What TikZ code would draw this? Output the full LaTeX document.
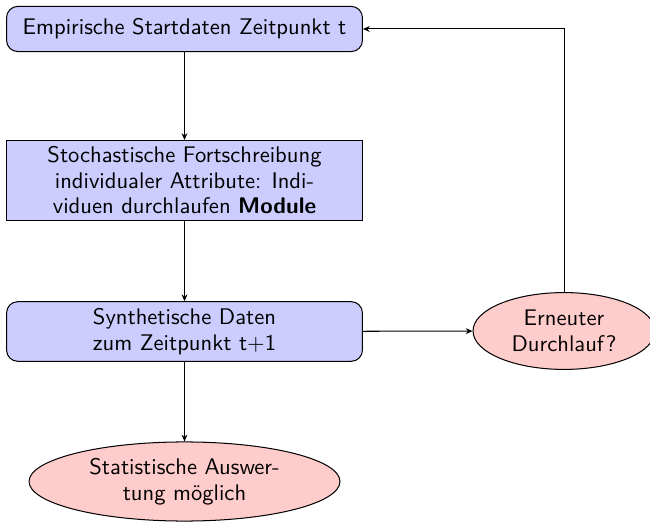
\documentclass[tikz,border=0pt]{standalone}
\usepackage{fontspec}
\usetikzlibrary{shapes.geometric,arrows.meta}
\begin{document}
\begin{tikzpicture}[x=0.4425pt,y=-0.4425pt,
  every node/.style={font=\sffamily\fontsize{10}{11.3}\selectfont, align=center, draw, line width=0.45pt},
  roundblock/.style={rectangle, rounded corners=5pt, fill=blue!20, minimum width=157.5pt, inner ysep=3pt},
  sharpblock/.style={rectangle, fill=blue!20, minimum width=157.5pt, inner ysep=2.7pt},
  oval/.style={ellipse, fill=red!20, inner sep=1pt},
  conn/.style={draw, line width=0.45pt, -{Stealth[length=3pt,width=2.6pt]}}]
\useasboundingbox (0,0) rectangle (650,522);
\node[roundblock, minimum height=20pt] (start) at (184.5,29) {Empirische Startdaten Zeitpunkt t};
\node[sharpblock, minimum height=35.4pt] (stoch) at (184.5,180.5) {Stochastische Fortschreibung\\individualer Attribute: Indi-\\viduen durchlaufen \textbf{Module}};
\node[roundblock, minimum height=26pt] (synth) at (184.5,331.5) {Synthetische Daten\\zum Zeitpunkt t+1};
\node[oval, minimum width=80.5pt, minimum height=34pt] (again) at (564,331) {Erneuter\\Durchlauf?};
\node[oval, minimum width=137.6pt, minimum height=35pt] (eval) at (184.5,481.5) {Statistische Auswer-\\tung möglich};
\draw[conn] (start) -- (stoch);
\draw[conn] (stoch) -- (synth);
\draw[conn] (synth) -- (eval);
\draw[conn] (synth) -- (again);
\draw[conn] (again.north) |- (start.east);
\end{tikzpicture}
\end{document}
